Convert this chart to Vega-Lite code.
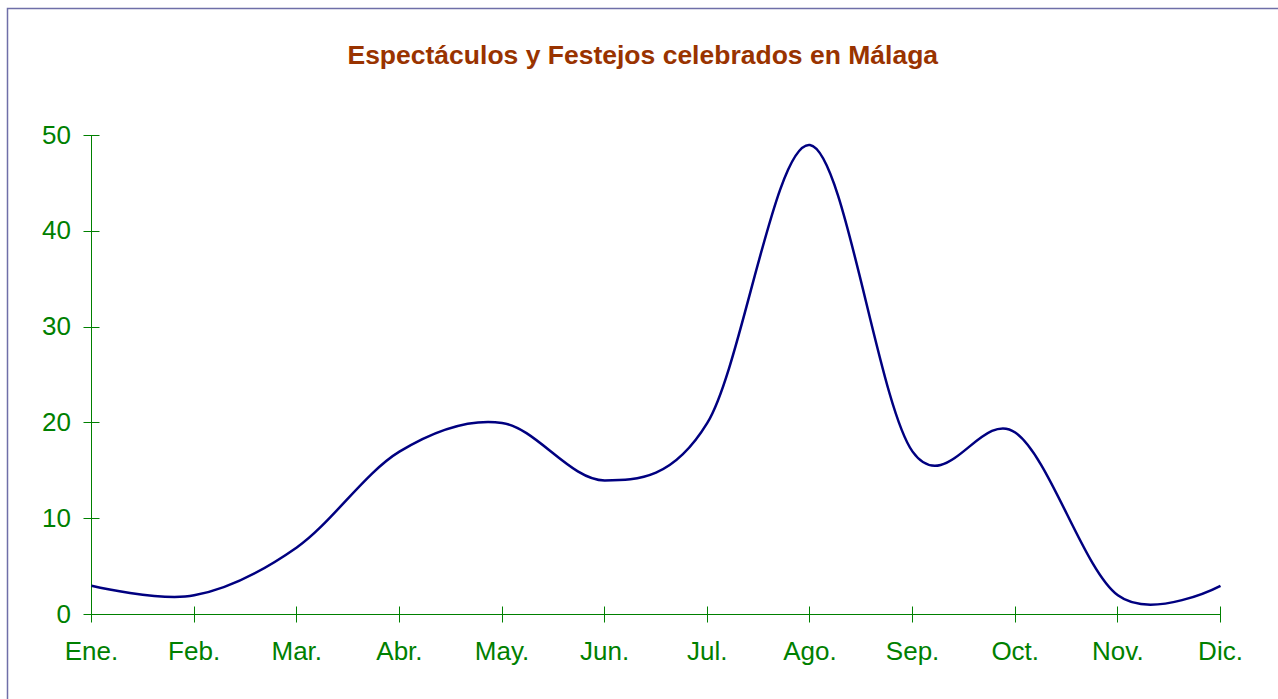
{
  "$schema": "https://vega.github.io/schema/vega-lite/v6.json",
  "width": 1270.5,
  "height": 690.5,
  "autosize": {"type": "none"},
  "padding": {"left": 7.5, "top": 8.5, "right": 0, "bottom": 0},
  "background": "white",
  "title": {
    "text": "Espectáculos y Festejos celebrados en Málaga",
    "frame": "group",
    "anchor": "middle",
    "offset": -82,
    "font": "Liberation Sans",
    "fontSize": 26.5,
    "fontWeight": "bold",
    "color": "#993300",
    "baseline": "alphabetic"
  },
  "config": {
    "view": {"stroke": "#6f6fa8", "strokeWidth": 1.5, "strokeDash": [1270.5, 1961, 690.5]},
    "axis": {
      "grid": false,
      "domain": false,
      "translate": 0,
      "labelFont": "Liberation Sans",
      "labelFontSize": 26,
      "labelColor": "#008000",
      "tickColor": "#008000",
      "tickWidth": 1,
      "labelFlush": false,
      "labelOverlap": false,
      "labelBound": false
    }
  },
  "data": {
    "values": [
      {"mes": "Ene.", "valor": 3},
      {"mes": "Feb.", "valor": 2},
      {"mes": "Mar.", "valor": 7},
      {"mes": "Abr.", "valor": 17},
      {"mes": "May.", "valor": 20},
      {"mes": "Jun.", "valor": 14},
      {"mes": "Jul.", "valor": 20},
      {"mes": "Ago.", "valor": 49},
      {"mes": "Sep.", "valor": 17},
      {"mes": "Oct.", "valor": 19},
      {"mes": "Nov.", "valor": 2},
      {"mes": "Dic.", "valor": 3}
    ]
  },
  "resolve": {"axis": {"x": "independent", "y": "independent"}},
  "layer": [
    {
      "mark": {"type": "rule", "color": "#008000", "strokeWidth": 1},
      "encoding": {
        "x": {
          "datum": "Ene.",
          "type": "ordinal",
          "axis": {"orient": "bottom", "offset": -92.5, "tickSize": 8, "labels": false, "title": null}
        },
        "y": {
          "datum": 0,
          "type": "quantitative",
          "axis": {"orient": "left", "offset": -92, "tickSize": 8, "labels": false, "values": [0, 10, 20, 30, 40, 50], "title": null}
        },
        "y2": {"datum": 50}
      }
    },
    {
      "mark": {"type": "rule", "color": "#008000", "strokeWidth": 1},
      "encoding": {
        "x": {"datum": "Ene.", "type": "ordinal", "axis": null},
        "x2": {"datum": "Dic."},
        "y": {"datum": 0, "type": "quantitative", "axis": null}
      }
    },
    {
      "mark": {"type": "line", "interpolate": "cardinal", "color": "#000080", "strokeWidth": 2.5},
      "encoding": {
        "x": {
          "field": "mes",
          "type": "ordinal",
          "scale": {
            "type": "point",
            "domain": ["Ene.", "Feb.", "Mar.", "Abr.", "May.", "Jun.", "Jul.", "Ago.", "Sep.", "Oct.", "Nov.", "Dic."],
            "padding": 0.68935,
            "align": 0.59364
          },
          "axis": {"orient": "bottom", "offset": -84.5, "tickSize": 8, "labelPadding": 37.5, "labelBaseline": "alphabetic", "labelAngle": 0, "title": null}
        },
        "y": {
          "field": "valor",
          "type": "quantitative",
          "scale": {"domain": [-8.82, 63.257], "nice": false, "zero": false},
          "axis": {"orient": "left", "offset": -84, "tickSize": 8, "labelPadding": 12.5, "values": [0, 10, 20, 30, 40, 50], "title": null}
        }
      }
    }
  ]
}
